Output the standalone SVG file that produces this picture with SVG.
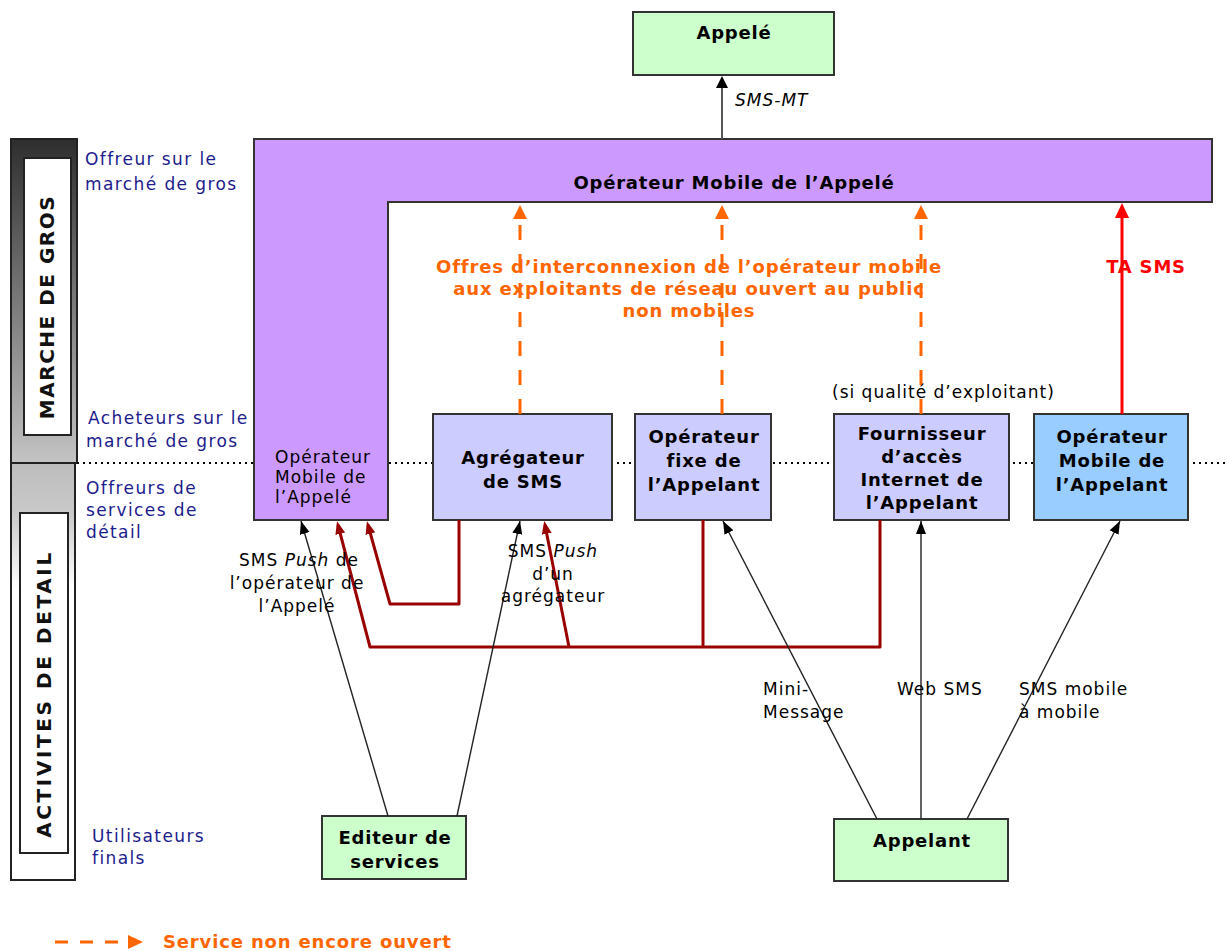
<svg xmlns="http://www.w3.org/2000/svg" width="1227" height="951" viewBox="0 0 1227 951">
  <defs>
    <style>
      .box { stroke: #333; stroke-width: 2; }
      .lav { fill: #ccccff; }
      .green { fill: #ccffcc; }
      .blue { fill: #99ccff; }
      .purple { fill: #cc99ff; }
      text { font-family: "DejaVu Sans", Verdana, sans-serif; }
      .b { font-weight: bold; font-size: 18px; letter-spacing: 0.8px; text-anchor: middle; fill: #000; }
      .r { font-size: 17px; letter-spacing: 1px; fill: #000; }
      .rm { font-size: 17px; letter-spacing: 1px; fill: #000; text-anchor: middle; }
      .lane { font-size: 17px; letter-spacing: 1.4px; fill: #1c1c8c; }
      .orange { font-weight: bold; font-size: 18px; letter-spacing: 0.85px; fill: #ff6600; text-anchor: middle; }
      .band { font-weight: bold; font-size: 20px; fill: #111; text-anchor: middle; }
      .thin { fill: none; stroke: #222; stroke-width: 1.4; marker-end: url(#arrBlack); }
      .dred { fill: none; stroke: #990000; stroke-width: 3; stroke-linejoin: round; }
      .dash { fill: none; stroke: #ff6600; stroke-width: 3; stroke-dasharray: 15 14; marker-end: url(#arrOrange); }
    </style>
    <linearGradient id="gTop" x1="0" y1="0" x2="0" y2="1">
      <stop offset="0" stop-color="#2e2e2e"/>
      <stop offset="1" stop-color="#c4c4c4"/>
    </linearGradient>
    <linearGradient id="gBottom" x1="0" y1="0" x2="0" y2="1">
      <stop offset="0" stop-color="#bdbdbd"/>
      <stop offset="0.12" stop-color="#c9c9c9"/>
      <stop offset="0.3" stop-color="#ffffff"/>
    </linearGradient>
    <marker id="arrBlack" markerUnits="userSpaceOnUse" markerWidth="13" markerHeight="11" refX="13" refY="5" orient="auto">
      <path d="M0,0 L13,5 L0,10 Z" fill="#000"/>
    </marker>
    <marker id="arrDred" markerUnits="userSpaceOnUse" markerWidth="14" markerHeight="11" refX="9" refY="5" orient="auto">
      <path d="M0,0 L13,5 L0,10 Z" fill="#990000"/>
    </marker>
    <marker id="arrOrange" markerUnits="userSpaceOnUse" markerWidth="15" markerHeight="15" refX="0" refY="7" orient="auto">
      <path d="M0,0 L14,7 L0,14 Z" fill="#ff6600"/>
    </marker>
    <marker id="arrRed" markerUnits="userSpaceOnUse" markerWidth="16" markerHeight="15" refX="0" refY="7" orient="auto">
      <path d="M0,0 L15,7 L0,14 Z" fill="#ff0000"/>
    </marker>
    <marker id="arrMT" markerUnits="userSpaceOnUse" markerWidth="13" markerHeight="13" refX="0" refY="6" orient="auto">
      <path d="M0,0 L12,6 L0,12 Z" fill="#000"/>
    </marker>
  </defs>

  <rect width="1227" height="951" fill="#fff"/>

  <!-- market level bands on the left -->
  <g id="band-gros">
    <rect x="11" y="139" width="66" height="324" fill="url(#gTop)" stroke="#222" stroke-width="2"/>
    <rect x="24" y="158" width="47" height="277" fill="#fff" stroke="#222" stroke-width="2"/>
    <text class="band" transform="translate(54,307) rotate(-90)" letter-spacing="1.5">MARCHE DE GROS</text>
  </g>
  <g id="band-detail">
    <rect x="11" y="463" width="64" height="417" fill="url(#gBottom)" stroke="#222" stroke-width="2"/>
    <rect x="20" y="513" width="48" height="340" fill="#fff" stroke="#222" stroke-width="2"/>
    <text class="band" transform="translate(51,694) rotate(-90)" letter-spacing="2.6">ACTIVITES DE DETAIL</text>
  </g>

  <!-- lane captions -->
  <g id="lane-labels">
    <text class="lane" x="85" y="165">Offreur sur le</text>
    <text class="lane" x="85" y="190">marché de gros</text>
    <text class="lane" x="88" y="424">Acheteurs sur le</text>
    <text class="lane" x="86" y="447">marché de gros</text>
    <text class="lane" x="86" y="494">Offreurs de</text>
    <text class="lane" x="86" y="516">services de</text>
    <text class="lane" x="86" y="538">détail</text>
    <text class="lane" x="92" y="842">Utilisateurs</text>
    <text class="lane" x="92" y="864">finals</text>
  </g>

  <!-- wholesale / retail boundary -->
  <line x1="77" y1="463" x2="1227" y2="463" stroke="#000" stroke-width="2" stroke-dasharray="2 4"/>

  <!-- nodes -->
  <g id="node-appele">
    <rect class="box green" x="633" y="12" width="201" height="63"/>
    <text class="b" x="734" y="39">Appelé</text>
  </g>

  <g id="node-operateur-appele">
    <path class="box purple" d="M254,139 H1212 V202 H388 V520 H254 Z"/>
    <text class="b" x="734" y="189">Opérateur Mobile de l’Appelé</text>
    <text class="r" x="275" y="463" font-size="15" letter-spacing="0.2">Opérateur</text>
    <text class="r" x="275" y="483" font-size="15" letter-spacing="0.2">Mobile de</text>
    <text class="r" x="275" y="503" font-size="15" letter-spacing="0.2">l’Appelé</text>
  </g>

  <g id="node-agregateur">
    <rect class="box lav" x="433" y="414" width="179" height="106"/>
    <text class="b" x="523" y="464">Agrégateur</text>
    <text class="b" x="523" y="488">de SMS</text>
  </g>

  <g id="node-fixe">
    <rect class="box lav" x="635" y="414" width="136" height="106"/>
    <text class="b" x="704" y="443">Opérateur</text>
    <text class="b" x="704" y="467">fixe de</text>
    <text class="b" x="704" y="491">l’Appelant</text>
  </g>

  <g id="node-fai">
    <rect class="box lav" x="834" y="414" width="175" height="106"/>
    <text class="b" x="922" y="440">Fournisseur</text>
    <text class="b" x="922" y="463">d’accès</text>
    <text class="b" x="922" y="486">Internet de</text>
    <text class="b" x="922" y="509">l’Appelant</text>
  </g>

  <g id="node-mobile-appelant">
    <rect class="box blue" x="1034" y="414" width="154" height="106"/>
    <text class="b" x="1112" y="443">Opérateur</text>
    <text class="b" x="1112" y="467">Mobile de</text>
    <text class="b" x="1112" y="491">l’Appelant</text>
  </g>

  <g id="node-editeur">
    <rect class="box green" x="322" y="816" width="144" height="63"/>
    <text class="b" x="395" y="844">Editeur de</text>
    <text class="b" x="395" y="868">services</text>
  </g>

  <g id="node-appelant">
    <rect class="box green" x="834" y="819" width="174" height="62"/>
    <text class="b" x="922" y="847">Appelant</text>
  </g>

  <!-- connectors -->
  <g id="connectors">
    <!-- SMS-MT delivery -->
    <line x1="722" y1="139" x2="722" y2="88" stroke="#555" stroke-width="2" marker-end="url(#arrMT)"/>

    <!-- interconnection offers not yet open -->
    <line class="dash" x1="520" y1="414" x2="520" y2="219"/>
    <line class="dash" x1="722" y1="414" x2="722" y2="219"/>
    <line class="dash" x1="921" y1="414" x2="921" y2="219"/>

    <!-- SMS termination -->
    <line x1="1122" y1="414" x2="1122" y2="218" stroke="#ff0000" stroke-width="3" marker-end="url(#arrRed)"/>

    <!-- wholesale flows into the called party's operator -->
    <path class="dred" d="M459,520 V604 H390 L368,525" marker-end="url(#arrDred)"/>
    <path class="dred" d="M880,520 V647 H370 L338,525" marker-end="url(#arrDred)"/>
    <path class="dred" d="M703,520 V647"/>
    <path class="dred" d="M569,647 L545,525" marker-end="url(#arrDred)"/>

    <!-- retail flows -->
    <line class="thin" x1="388" y1="816" x2="301" y2="521"/>
    <line class="thin" x1="457" y1="816" x2="520" y2="521"/>
    <line class="thin" x1="877" y1="819" x2="723" y2="521"/>
    <line class="thin" x1="921" y1="819" x2="921" y2="521"/>
    <line class="thin" x1="967" y1="819" x2="1120" y2="521"/>
  </g>

  <!-- connector labels -->
  <g id="labels">
    <text class="r" x="735" y="106" font-style="italic" letter-spacing="3">SMS-MT</text>
    <text class="orange" x="689" y="273">Offres d’interconnexion de l’opérateur mobile</text>
    <text class="orange" x="689" y="295">aux exploitants de réseau ouvert au public</text>
    <text class="orange" x="689" y="317">non mobiles</text>
    <text class="b" x="1146" y="273" style="fill:#ff0000">TA SMS</text>
    <text class="r" x="832" y="398" font-size="14" letter-spacing="0.5">(si qualité d’exploitant)</text>

    <text class="rm" x="299" y="566">SMS <tspan font-style="italic">Push</tspan> de</text>
    <text class="rm" x="297" y="589">l’opérateur de</text>
    <text class="rm" x="297" y="612">l’Appelé</text>

    <text class="rm" x="553" y="557">SMS <tspan font-style="italic">Push</tspan></text>
    <text class="rm" x="553" y="580">d’un</text>
    <text class="rm" x="553" y="602">agrégateur</text>

    <text class="r" x="763" y="695">Mini-</text>
    <text class="r" x="763" y="718">Message</text>
    <text class="r" x="897" y="695" letter-spacing="1.6">Web SMS</text>
    <text class="r" x="1019" y="695">SMS mobile</text>
    <text class="r" x="1019" y="718">à mobile</text>
  </g>

  <!-- legend -->
  <g id="legend">
    <line x1="55" y1="942" x2="128" y2="942" stroke="#ff6600" stroke-width="3" stroke-dasharray="13 12"/>
    <path d="M128,935 L143,942 L128,949 Z" fill="#ff6600"/>
    <text class="orange" x="163" y="948" letter-spacing="1" style="text-anchor:start">Service non encore ouvert</text>
  </g>
</svg>
